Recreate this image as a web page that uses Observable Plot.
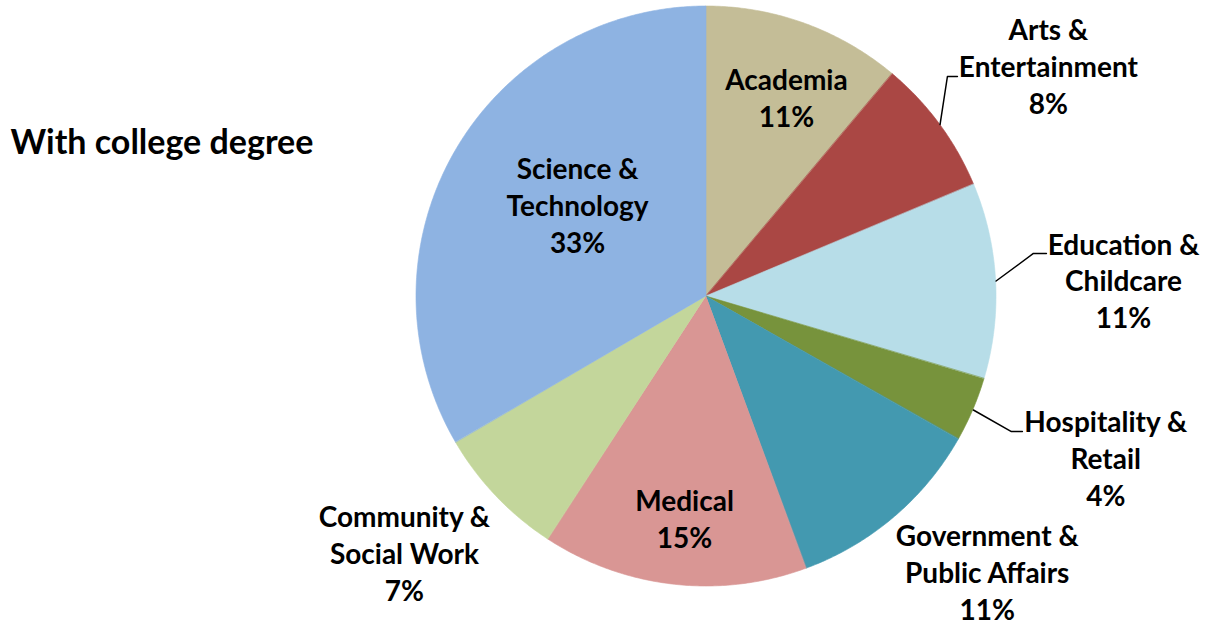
<!DOCTYPE html>
<html>
<head>
<meta charset="utf-8">
<script src="https://cdn.jsdelivr.net/npm/d3@7"></script>
<script src="https://cdn.jsdelivr.net/npm/@observablehq/plot@0.6"></script>
<style>
  html, body { margin: 0; padding: 0; background: #fff; }
  #chart svg { display: block; }
</style>
</head>
<body>
<div id="chart"></div>
<script>
// ---- data ----
const categories = ["Academia", "Arts & Entertainment", "Education & Childcare", "Hospitality & Retail",
  "Government & Public Affairs", "Medical", "Community & Social Work", "Science & Technology"];
const shares = [11.1, 7.6, 10.9, 3.6, 11.2, 14.8, 7.4, 33.4];
const labelNames = ["Academia", "Arts &\nEntertainment", "Education &\nChildcare", "Hospitality &\nRetail",
  "Government &\nPublic Affairs", "Medical", "Community &\nSocial Work", "Science &\nTechnology"];
const colors = ["#C4BD97", "#AA4744", "#B7DDE8", "#77933C", "#4399B0", "#D99694", "#C3D69B", "#8EB3E2"];
const title = "With college degree";

// ---- layout (not data) ----
const W = 1212, H = 627, CX = 706, CY = 296, R = 290;
// label placement: [angle in degrees clockwise from 12 o'clock, radius factor]
const labelPlace = [[22.1, 0.733], [56.3, 1.417], [88.1, 1.439], [112.3, 1.488],
  [134.7, 1.362], [185.6, 0.776], [229.4, 1.372], [304.6, 0.540]];
// leader lines: category index -> elbow [angle, radius factor], horizontal tail (px)
const leaders = [{i: 1, elbow: [47.6, 1.125], tail: 10}, {i: 2, elbow: [82.5, 1.137], tail: 13},
  {i: 3, elbow: [113.9, 1.15], tail: 11}];

const arcs = d3.pie().sort(null).value(d => d)(shares);
const deg = Math.PI / 180;
const polar = (a, r) => ({x: r * Math.sin(a), y: r * Math.cos(a)});

const slicePts = [];
arcs.forEach((arc, i) => {
  const n = Math.max(4, Math.ceil((arc.endAngle - arc.startAngle) / deg * 2));
  for (let k = 0; k <= n; k++) {
    const a = arc.startAngle + (arc.endAngle - arc.startAngle) * k / n;
    slicePts.push({cat: categories[i], ...polar(a, 1)});
  }
});

const labels = categories.map((c, i) => ({
  cat: c,
  text: labelNames[i] + "\n" + Math.round(shares[i]) + "%",
  ...polar(labelPlace[i][0] * deg, labelPlace[i][1])
}));

const leaderPts = [];
leaders.forEach(({i, elbow, tail}) => {
  const mid = (arcs[i].startAngle + arcs[i].endAngle) / 2;
  const p0 = polar(mid, 1.0);
  const p1 = polar(elbow[0] * deg, elbow[1]);
  leaderPts.push({cat: categories[i], ...p0});
  leaderPts.push({cat: categories[i], ...p1});
  leaderPts.push({cat: categories[i], x: p1.x + tail / R, y: p1.y});
});

const chart = Plot.plot({
  width: W,
  height: H,
  margin: 0,
  style: {fontFamily: "Lato", background: "#fff"},
  x: {domain: [-CX / R, (W - CX) / R], axis: null},
  y: {domain: [-(H - CY) / R, CY / R], axis: null},
  color: {type: "ordinal", domain: categories, range: colors},
  marks: [
    Plot.area(slicePts, {x1: () => 0, y1: () => 0, x2: "x", y2: "y", z: "cat", fill: "cat", stroke: "cat", strokeWidth: 0.6}),
    Plot.line(leaderPts, {x: "x", y: "y", z: "cat", stroke: "#000", strokeWidth: 1.5}),
    Plot.text(labels, {x: "x", y: "y", text: "text", fontFamily: "Lato", fontWeight: "bold", fontSize: 28,
      lineHeight: 1.32, dy: -3, fill: "#000", textAnchor: "middle", lineAnchor: "middle"}),
    Plot.text([title], {frameAnchor: "top-left", dx: 10, dy: 143, textAnchor: "start", lineAnchor: "middle",
      fontFamily: "Lato", fontWeight: "bold", fontSize: 34, fill: "#000"})
  ]
});
document.getElementById("chart").appendChild(chart);
</script>
</body>
</html>
